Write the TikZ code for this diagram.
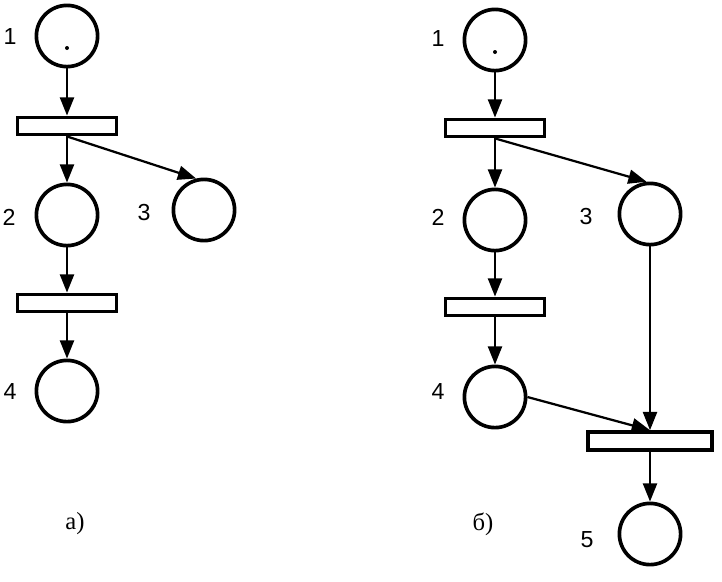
\documentclass[tikz,border=0pt]{standalone}
\usepackage{fontspec}
\setmainfont{Liberation Serif}
\newfontfamily\lblfont{Liberation Sans}
\usepackage{tikz}
\usetikzlibrary{arrows.meta}

\begin{document}
\begin{tikzpicture}[
            x=0.025cm, y=-0.025cm,
            pl/.style={circle, draw, line width=2.6pt, minimum size=1.53cm, inner sep=0pt},
            tr/.style={rectangle, draw, line width=2.6pt, minimum width=2.47cm, minimum height=0.43cm, inner sep=0pt},
            tok/.style={circle, fill, inner sep=0pt, minimum size=0.1cm},
            num/.style={font=\lblfont\fontsize{16.5}{19}\selectfont, inner sep=0pt},
            subcap/.style={font=\fontsize{17.5}{20}\selectfont, inner sep=0pt},
            every edge/.style={draw, -{Triangle[length=13pt, width=10pt]}, line width=1.6pt}
        ]
        \useasboundingbox (0,0) rectangle (722,581);

        % Net a): places
        \node[pl] (A1) at (67,36)   {};
        \node[pl] (A2) at (67,215)  {};
        \node[pl] (A3) at (204,210) {};
        \node[pl] (A4) at (67,391)  {};
        \node[tok] (ak) at (67,48)  {};

        % Net a): transitions
        \node[tr] (At1) at (67,126) {};
        \node[tr] (At2) at (67,303) {};

        % Net a): labels
        \node[num] (la1) at (10,37)  {1};
        \node[num] (la2) at (9,217)  {2};
        \node[num] (la3) at (144,213) {3};
        \node[num] (la4) at (10,392) {4};
        \node[subcap] (ca) at (75,524)  {a)};

        % Net a): arcs
        \draw (A1) edge (At1.north);
        \draw (At1.south) edge (A2);
        \draw (At1.south) edge (A3.104);
        \draw (A2) edge (At2.north);
        \draw (At2.south) edge (A4);

        % Net b): places
        \node[pl] (B1) at (495,40)  {};
        \node[pl] (B2) at (495,220) {};
        \node[pl] (B3) at (650,214) {};
        \node[pl] (B4) at (495,397) {};
        \node[pl] (B5) at (650,534) {};
        \node[tok] (bk) at (495,52) {};

        % Net b): transitions
        \node[tr] (Bt1) at (495,128) {};
        \node[tr] (Bt2) at (495,307) {};
        \node[tr, minimum width=3.1cm, minimum height=0.45cm] (Bt3) at (650,441) {};

        % Net b): labels
        \node[num] (lb1) at (438,39)  {1};
        \node[num] (lb2) at (438,217) {2};
        \node[num] (lb3) at (586,217) {3};
        \node[num] (lb4) at (438,392) {4};
        \node[num] (lb5) at (587,540) {5};
        \node[subcap] (cb) at (483,524)  {б)};

        % Net b): arcs
        \draw (B1) edge (Bt1.north);
        \draw (Bt1.south) edge (B2);
        \draw (Bt1.south) edge (B3.96);
        \draw (B2) edge (Bt2.north);
        \draw (Bt2.south) edge (B4);
        \draw (B3) edge (Bt3.north);
        \draw (B4.east) edge (Bt3.north);
        \draw (Bt3.south) edge (B5);
    \end{tikzpicture}
\end{document}
